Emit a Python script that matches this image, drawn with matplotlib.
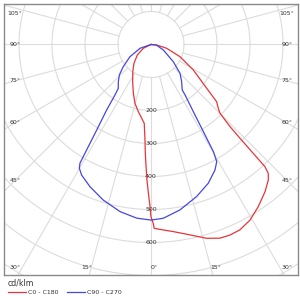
import numpy as np
import matplotlib
matplotlib.use("Agg")
import matplotlib.pyplot as plt
from matplotlib.lines import Line2D

# luminous intensity (cd/klm), gamma in degrees from nadir
RED_C0_GAMMA = [0, 0.7, 1.0, 2.8, 6.8, 11.6, 16.0, 19.6, 22.5, 25.6, 29.4, 33.5, 37.8,
                40.9, 42.3, 43.0, 43.2, 43.5, 43.9, 45.1, 46.5, 48.9, 51.8, 58.9, 67.2,
                76.4, 85, 90]
RED_C0_I = [522, 542, 557, 561, 571, 589, 611, 623, 625, 623, 611, 589, 564,
            543, 528, 506, 452, 392, 345, 295, 281, 264, 215, 150, 95,
            49, 17, 0]
RED_C180_GAMMA = [0, 0.35, 1.0, 1.7, 2.3, 3.0, 3.6, 4.9, 7.2, 10.7, 15.2, 19.9, 26.2,
                  33.9, 42.1, 52.5, 63.7, 90]
RED_C180_I = [522, 491, 451, 411, 371, 330, 290, 240, 225, 207, 185, 157, 126,
              99, 77, 52, 26, 0]

BLUE_C90_GAMMA = [0, 4.0, 9.9, 16.7, 22.4, 27.0, 29.3, 30.2, 31.0, 32.2, 34.0, 34.5,
                  39.5, 45.2, 52.4, 65.9, 83, 90]
BLUE_C90_I = [532, 528, 509, 481, 455, 427, 407, 376, 308, 241, 185, 167,
              146, 124, 85, 41, 17, 0]
BLUE_C270_GAMMA = [0, 4.7, 10.5, 17.1, 23.2, 28.0, 30.1, 30.9, 31.4, 32.4, 34.1, 35.5,
                   36.7, 41.3, 46.1, 51.3, 59.8, 70.9, 90]
BLUE_C270_I = [532, 528, 515, 493, 469, 448, 433, 419, 374, 307, 240, 188,
               166, 150, 133, 108, 74, 35, 0]

RINGS = [100, 200, 300, 400, 500, 600, 700, 800]
RING_LABELS = [200, 300, 400, 500, 600]
SPOKES = np.arange(0, 360, 15)
SIDE_ANGLES = [105, 90, 75, 60, 45]
BOTTOM_ANGLES = [30, 15, 0]

XMAX, YTOP, YBOT = 444.5, 121.8, -698.5
GRID = "#dcdcdc"
TXT = "#333333"
RED = "#e8343a"
BLUE = "#4646e0"
FS = 4.5


def _curve(g_left, i_left, g_right, i_right):
    gl = np.radians(g_left)[::-1]
    il = np.asarray(i_left, float)[::-1]
    gr = np.radians(g_right)
    ir = np.asarray(i_right, float)
    x = np.concatenate([-il * np.sin(gl), ir * np.sin(gr)])
    y = np.concatenate([-il * np.cos(gl), -ir * np.cos(gr)])
    return x, y


fig = plt.figure(figsize=(3, 3), dpi=100)
ax = fig.add_axes([4.3 / 300, 25 / 300, 293.4 / 300, 270.7 / 300])
ax.set_xlim(-XMAX, XMAX)
ax.set_ylim(YBOT, YTOP)
ax.set_xticks([]); ax.set_yticks([])
for sp in ax.spines.values():
    sp.set_color("#8a8a8a"); sp.set_linewidth(1.0)

# polar grid
t = np.linspace(0, 2 * np.pi, 400)
for r in RINGS:
    ax.plot(r * np.cos(t), r * np.sin(t), color=GRID, lw=0.8, zorder=1)
for a in SPOKES:
    ar = np.radians(a)
    ax.plot([100 * np.sin(ar), 1000 * np.sin(ar)], [-100 * np.cos(ar), -1000 * np.cos(ar)],
            color=GRID, lw=0.8, zorder=1)

# curves
xr, yr = _curve(RED_C180_GAMMA, RED_C180_I, RED_C0_GAMMA, RED_C0_I)
ax.plot(xr, yr, color=RED, lw=0.9, zorder=3)
xb, yb = _curve(BLUE_C270_GAMMA, BLUE_C270_I, BLUE_C90_GAMMA, BLUE_C90_I)
ax.plot(xb, yb, color=BLUE, lw=0.9, zorder=3)

# radial labels
for r in RING_LABELS:
    ax.text(0, -r, str(r), fontsize=FS, color=TXT, ha="center", va="center", zorder=2)

# angle labels
lx = 412
for a in SIDE_ANGLES:
    y = -lx / np.tan(np.radians(a)) if a != 90 else 0.0
    y = min(y, YTOP - 27)
    for sgn in (-1, 1):
        ax.text(sgn * lx, y, f"{a}°", fontsize=FS, color=TXT, ha="center", va="center")
by = YBOT + 24
for a in BOTTOM_ANGLES:
    x = min(-YBOT * np.tan(np.radians(a)) + 8, lx)
    for sgn in ((-1, 1) if a else (1,)):
        ax.text(sgn * x, by, f"{a}°", fontsize=FS, color=TXT, ha="center", va="center")

# legend
fig.text(8 / 300, 1 - 283 / 300, "cd/klm", fontsize=5.6, color=TXT, va="center")
ly = 1 - 292 / 300
fig.add_artist(Line2D([8 / 300, 26 / 300], [ly, ly], color=RED, lw=0.9))
fig.text(28 / 300, ly, "C0 - C180", fontsize=FS, color=TXT, va="center")
fig.add_artist(Line2D([67 / 300, 85 / 300], [ly, ly], color=BLUE, lw=0.9))
fig.text(87 / 300, ly, "C90 - C270", fontsize=FS, color=TXT, va="center")

fig.savefig("out.png", dpi=100, facecolor="white")
